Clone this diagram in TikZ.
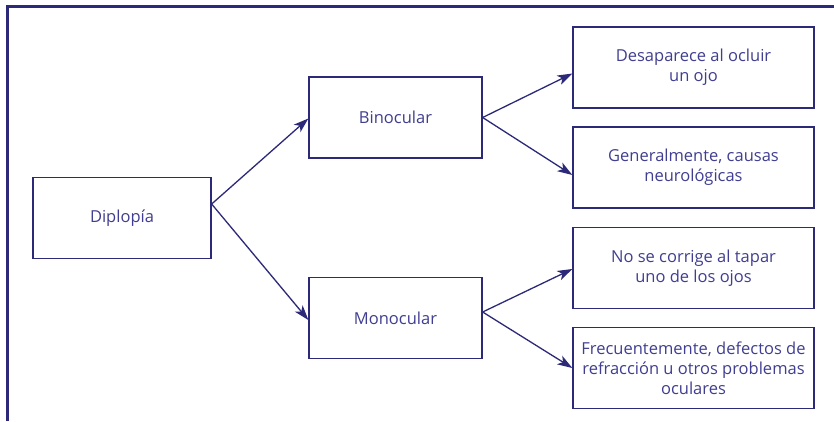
\documentclass[tikz,border=0pt]{standalone}
\usepackage{fontspec}
\setmainfont{Open Sans}
\usetikzlibrary{arrows.meta}
\definecolor{azul}{HTML}{2B2978}
\definecolor{azultexto}{HTML}{403E90}
\begin{document}
\begin{tikzpicture}[x=1pt, y=-1pt,
    caja/.style={draw=azul, line width=1.3pt, text=azultexto, align=center,
        font=\fontsize{16.5}{20}\selectfont, inner sep=0pt, minimum height=81pt},
    flecha/.style={-{Stealth[length=15pt, width=10pt, inset=4pt]}, draw=azul, line width=1.3pt}]
    \useasboundingbox (0,0) rectangle (834,421);
    % Marco
    \draw[azul, line width=3pt] (7.5,421) -- (7.5,6.5) -- (834,6.5);

    % Cajas
    \node[caja, minimum width=178pt] (diplopia) at (122,218) {Diplopía};
    \node[caja, minimum width=173pt] (binocular) at (395.5,117.5) {Binocular};
    \node[caja, minimum width=173pt] (monocular) at (395.5,318) {Monocular};
    \node[caja, minimum width=241pt] (ocluir) at (693.5,67.5) {Desaparece al ocluir\\un ojo};
    \node[caja, minimum width=241pt] (neuro) at (693.5,167.5) {Generalmente, causas\\neurológicas};
    \node[caja, minimum width=241pt] (tapar) at (693.5,268) {No se corrige al tapar\\uno de los ojos};
    \node[caja, minimum width=241pt] (refraccion) at (693.5,368) {Frecuentemente, defectos de\\refracción u otros problemas\\oculares};

    % Flechas
    \draw[flecha] ([yshift=14pt]diplopia.east) -- ([yshift=-1pt]binocular.west);
    \draw[flecha] ([yshift=14pt]diplopia.east) -- ([yshift=-2pt]monocular.west);
    \draw[flecha] (binocular.east) -- ([yshift=-6pt]ocluir.west);
    \draw[flecha] (binocular.east) -- ([yshift=-7.5pt]neuro.west);
    \draw[flecha] ([yshift=6pt]monocular.east) -- ([yshift=-1pt]tapar.west);
    \draw[flecha] ([yshift=6pt]monocular.east) -- (refraccion.west);
\end{tikzpicture}
\end{document}
